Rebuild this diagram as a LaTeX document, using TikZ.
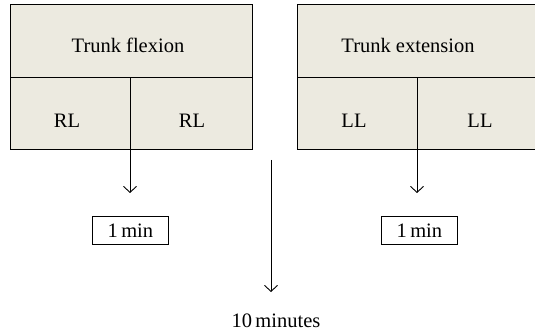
\documentclass[tikz,border=0pt]{standalone}
\usepackage{fontspec}
\setmainfont{Liberation Serif}
\usetikzlibrary{arrows.meta}
\definecolor{boxfill}{RGB}{236,234,224}
\tikzset{
  cell/.style={draw=black, fill=boxfill, line width=1pt, inner sep=0pt, anchor=north west},
  smallbox/.style={draw=black, line width=0.8pt, inner sep=0pt, anchor=north west},
  lbl/.style={font=\fontsize{20.5}{22}\selectfont},
  arr/.style={line width=0.9pt, -{Straight Barb[length=6pt,width=13pt]}}
}
\begin{document}
\begin{tikzpicture}[x=1pt,y=-1pt]
\useasboundingbox (0,0) rectangle (535,331);
% left block
\node[cell, minimum width=242pt, minimum height=73pt] (lt) at (10,4) {};
\node[cell, minimum width=120pt, minimum height=72pt] (la) at (10,77) {};
\node[cell, minimum width=122pt, minimum height=72pt] (lb) at (130,77) {};
\node[lbl] (ltt) at (128,45) {Trunk flexion};
\node[lbl] (lat) at (67,121) {RL};
\node[lbl] (lbt) at (192,121) {RL};
% right block
\node[cell, minimum width=245pt, minimum height=73pt] (rt) at (297,4) {};
\node[cell, minimum width=120pt, minimum height=72pt] (ra) at (297,77) {};
\node[cell, minimum width=125pt, minimum height=72pt] (rb) at (417,77) {};
\node[lbl] (rtt) at (408,45) {Trunk extension};
\node[lbl] (rat) at (354,121) {LL};
\node[lbl] (rbt) at (480,121) {LL};
% small boxes
\node[smallbox, minimum width=76pt, minimum height=28pt] (m1) at (92,216) {};
\node[lbl] at (m1.center) {1\,min};
\node[smallbox, minimum width=76pt, minimum height=28pt] (m2) at (381,216) {};
\node[lbl] at (m2.center) {1\,min};
% arrows
\coordinate (la0) at (130,149);
\coordinate (la1) at (130,193);
\coordinate (ra0) at (417,149);
\coordinate (ra1) at (417,193);
\coordinate (c0) at (271,160);
\coordinate (c1) at (271,292);
\draw[arr] (la0) -- (la1);
\draw[arr] (ra0) -- (ra1);
\draw[arr] (c0) -- (c1);
\node[lbl] (tm) at (276,321) {10\,minutes};
\end{tikzpicture}
\end{document}
